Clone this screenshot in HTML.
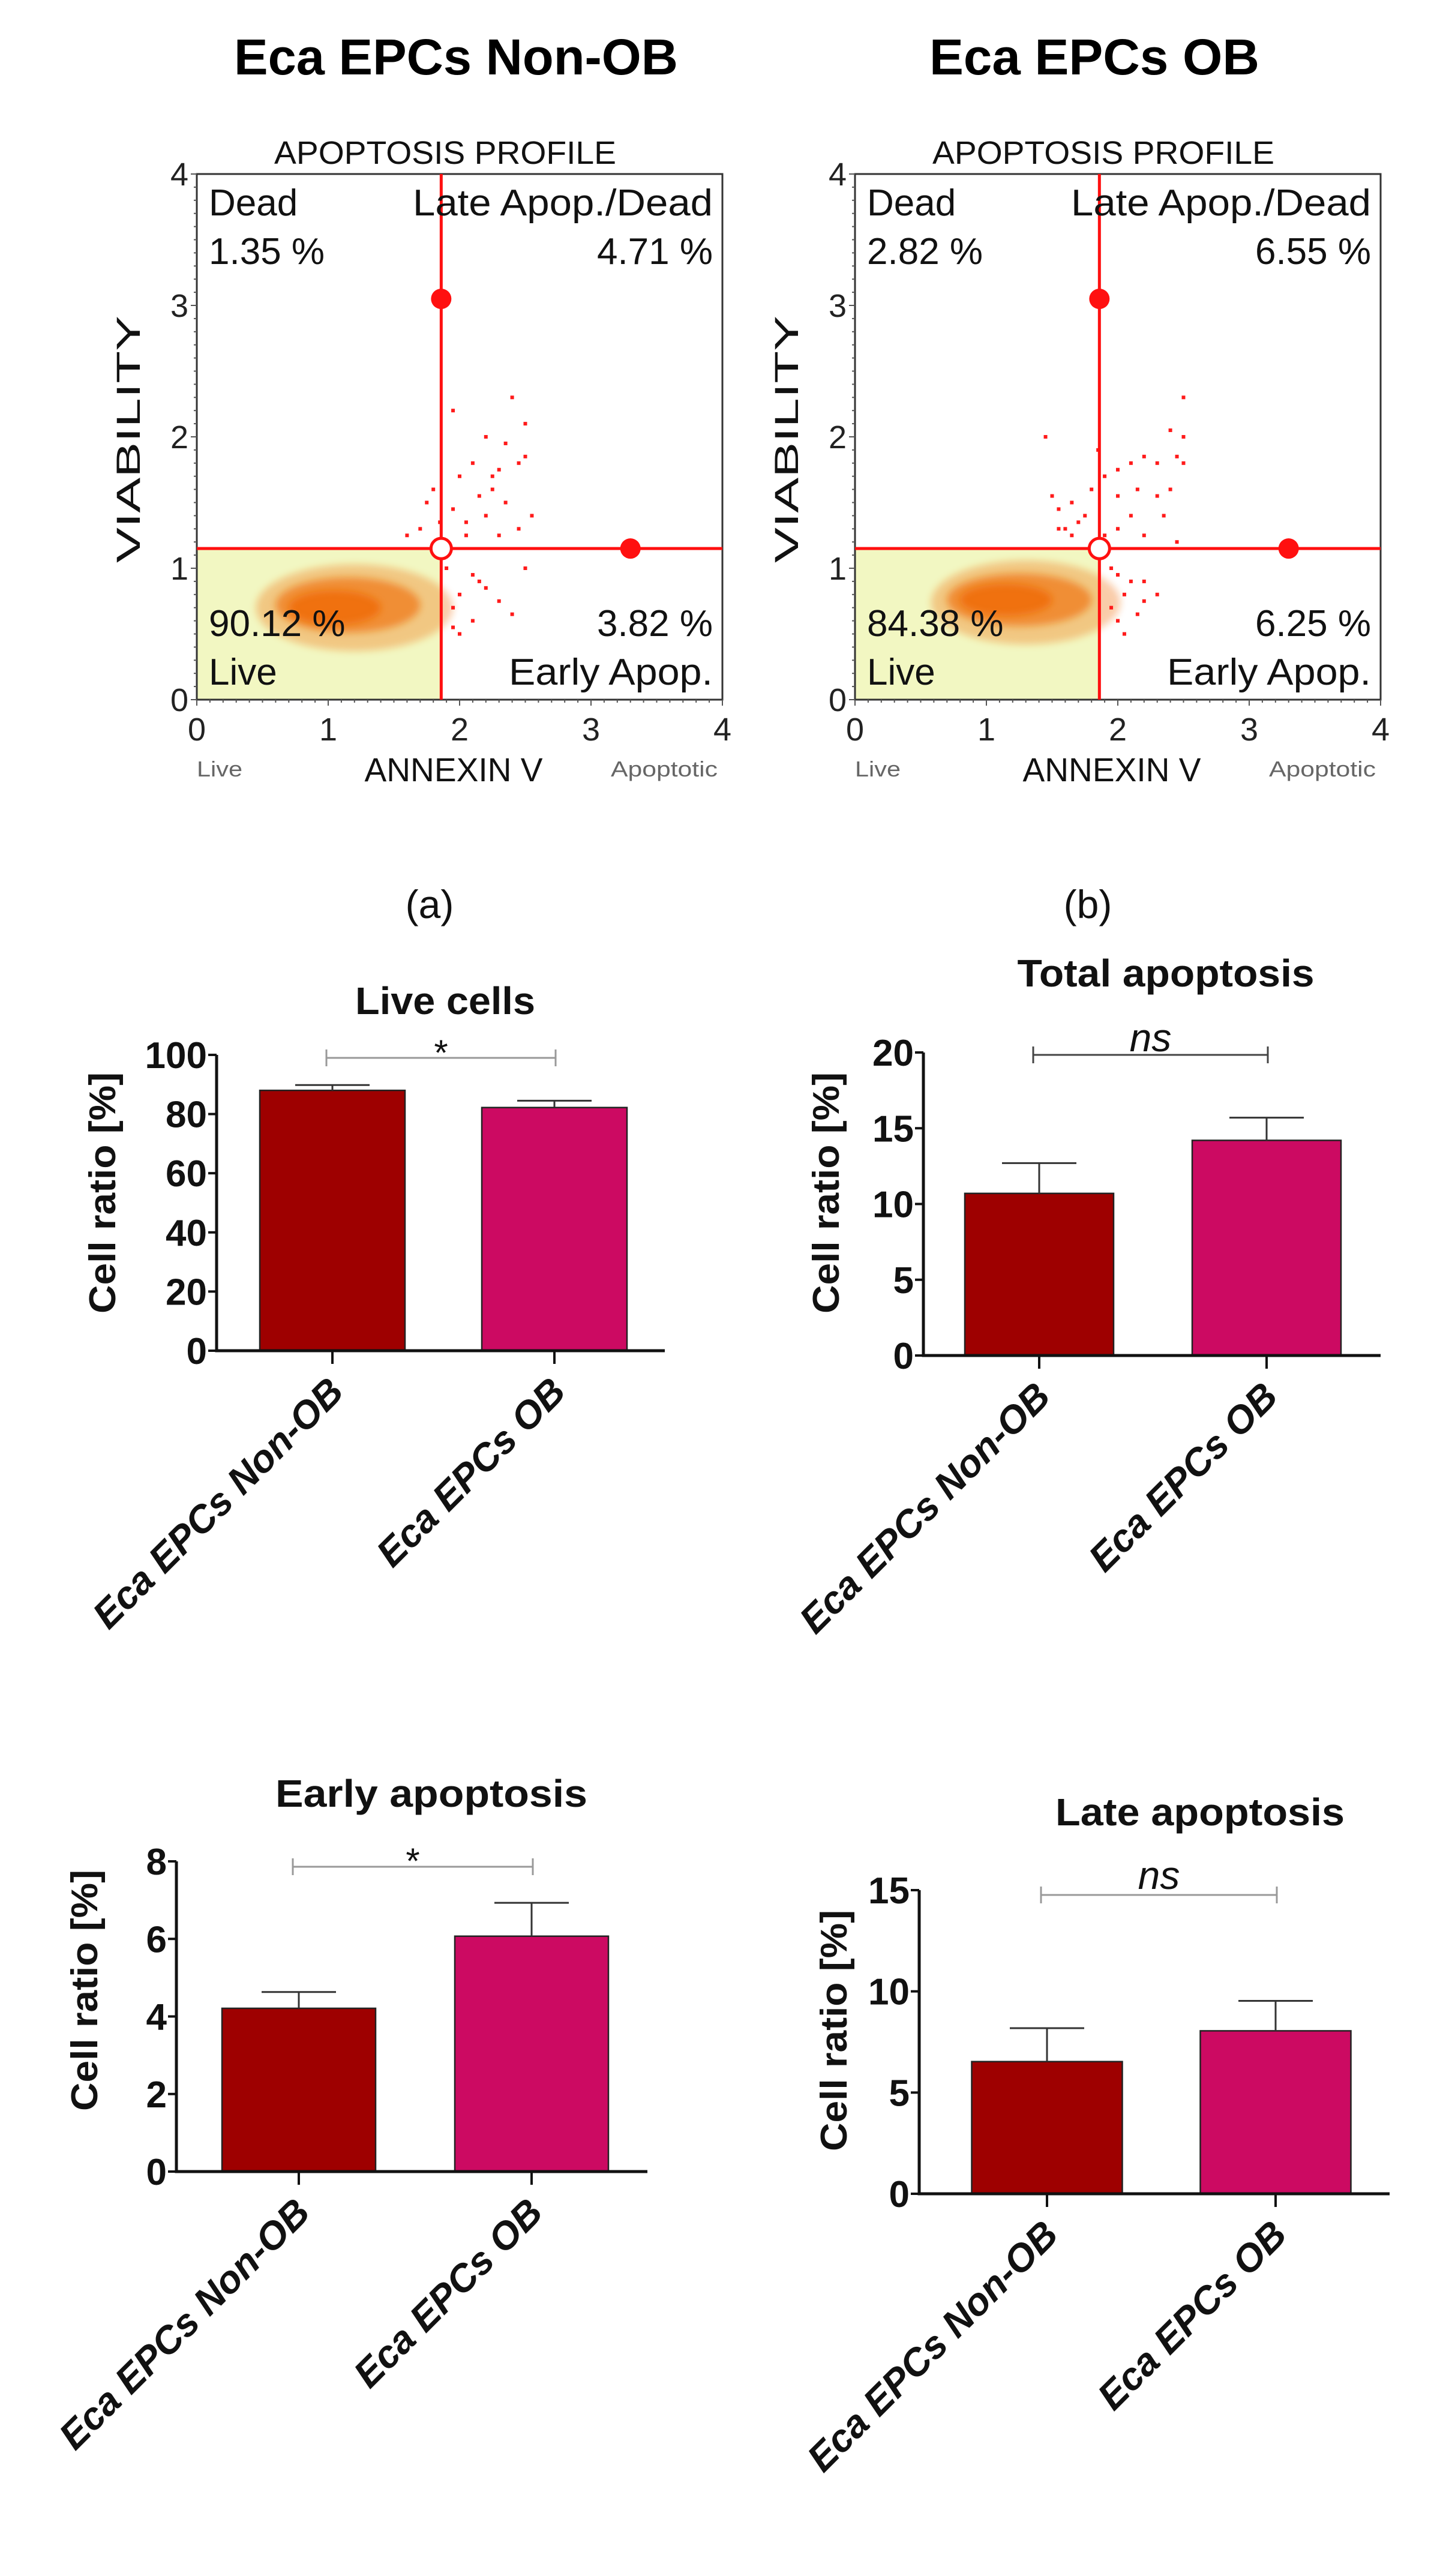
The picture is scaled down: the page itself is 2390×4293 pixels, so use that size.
<!DOCTYPE html>
<html><head><meta charset="utf-8"><style>
html,body{margin:0;padding:0;background:#fff;}
svg{display:block;}
text{font-family:"Liberation Sans",Arial,sans-serif;}
</style></head><body>
<svg id="fig" width="2390" height="4293" viewBox="0 0 2390 4293" xmlns="http://www.w3.org/2000/svg">
<defs><filter id="blur" x="-50%" y="-50%" width="200%" height="200%"><feGaussianBlur stdDeviation="6"/></filter></defs>
<text x="760" y="124" font-size="84" font-weight="bold" text-anchor="middle" textLength="740" lengthAdjust="spacingAndGlyphs">Eca EPCs Non-OB</text>
<text x="1824" y="124" font-size="84" font-weight="bold" text-anchor="middle" textLength="550" lengthAdjust="spacingAndGlyphs">Eca EPCs OB</text>
<g id="root"></g>
</svg>
<script>
// ---------- Scatter (flow cytometry) data ----------
const scatterTicks = [0,1,2,3,4];
const gateX = 1.86, gateY = 1.15;
const handleUpper = [1.86, 3.05];
const handleRight = [3.3, 1.15];
const quadA = ["1.35 %","4.71 %","90.12 %","3.82 %"];
const quadB = ["2.82 %","6.55 %","84.38 %","6.25 %"];
const cloudA = [[1.2,0.7,0.75,0.33],[1.15,0.72,0.55,0.21],[1.05,0.7,0.35,0.13]];
const cloudB = [[1.3,0.74,0.72,0.32],[1.25,0.76,0.55,0.2],[1.15,0.76,0.35,0.12]];
const redA = [[1.95,2.2],[2.2,2.0],[2.4,2.3],[2.5,2.1],[2.45,1.8],[2.5,1.85],[2.3,1.75],[2.1,1.8],[2.0,1.7],[2.15,1.55],[2.25,1.6],[2.35,1.5],[2.2,1.4],[2.05,1.35],[1.8,1.6],[1.75,1.5],[1.85,1.35],[1.95,1.45],[2.3,1.25],[2.45,1.3],[1.6,1.25],[1.7,1.3],[2.05,1.25],[1.9,1.0],[2.1,0.95],[2.2,0.85],[2.0,0.8],[1.95,0.7],[2.3,0.75],[2.1,0.6],[2.4,0.65],[2.0,0.5],[1.95,0.55],[2.15,0.9],[2.55,1.4],[2.5,1.0],[2.35,1.95],[2.25,1.7]];
const redB = [[1.5,1.55],[1.55,1.45],[1.65,1.5],[1.7,1.35],[1.75,1.4],[1.6,1.3],[1.8,1.6],[1.65,1.25],[1.55,1.3],[1.9,1.7],[2.0,1.75],[2.1,1.8],[2.2,1.85],[2.3,1.8],[2.4,2.05],[2.5,2.0],[2.45,1.85],[2.5,1.8],[2.5,2.3],[1.45,2.0],[2.0,1.55],[2.15,1.6],[2.3,1.55],[2.35,1.4],[2.1,1.4],[2.0,1.3],[1.9,1.25],[2.2,1.25],[2.45,1.2],[1.95,1.0],[2.0,0.95],[2.1,0.9],[2.05,0.8],[2.2,0.75],[1.95,0.7],[2.15,0.65],[2.3,0.8],[2.0,0.6],[2.05,0.5],[2.2,0.9],[2.4,1.6],[1.85,1.9]];

// ---------- Bar chart data ----------
const groups = ["Eca EPCs Non-OB","Eca EPCs OB"];
const liveMeans = [88, 82.2];
const liveErr = [1.8, 2.3];
const liveTicks = [0,20,40,60,80,100];
const totalMeans = [10.7, 14.2];
const totalErr = [2.0, 1.5];
const totalTicks = [0,5,10,15,20];
const earlyMeans = [4.21, 6.07];
const earlyErr = [0.42, 0.86];
const earlyTicks = [0,2,4,6,8];
const lateMeans = [6.53, 8.05];
const lateErr = [1.65, 1.48];
const lateTicks = [0,5,10,15];

const NS="http://www.w3.org/2000/svg";
const root=document.getElementById('root');
function el(tag,attrs,parent,txt){const e=document.createElementNS(NS,tag);for(const k in attrs)e.setAttribute(k,attrs[k]);if(txt!==undefined)e.textContent=txt;(parent||root).appendChild(e);return e;}

function scatter(x0,quad,cloud,red,label,name){
  const y0=290,S=876,y1=y0+S;
  const g=el('g',{});
  
  
  const sx=v=>x0+v*S/4, sy=v=>y1-v*S/4;
  const fill=el('rect',{x:x0,y:sy(gateY),width:sx(gateX)-x0,height:y1-sy(gateY),fill:'#f2f7c2'},g);
  
  
  const ops=[0.35,0.65,0.95];
  cloud.forEach((c,i)=>{const e=el('ellipse',{cx:sx(c[0]),cy:sy(c[1]),rx:c[2]*S/4,ry:c[3]*S/4,fill:'#f07010',opacity:ops[i],filter:'url(#blur)'},g);
    
    });
  red.forEach(p=>{const e=el('rect',{x:sx(p[0])-3,y:sy(p[1])-3,width:6,height:6,fill:'#ff1a1a'},g);
    
    });
  const box=el('rect',{x:x0,y:y0,width:S,height:S,fill:'none',stroke:'#333',"stroke-width":3},g);
  
  
  for(let v=0;v<=4.001;v+=0.1){
    const big=Math.abs(v-Math.round(v))<0.01;
    el('line',{x1:sx(v),x2:sx(v),y1:y1,y2:y1+(big?10:5),stroke:'#555','stroke-width':2},g);
    el('line',{x1:x0,x2:x0-(big?10:5),y1:sy(v),y2:sy(v),stroke:'#555','stroke-width':2},g);
  }
  scatterTicks.forEach(t=>{
    const a=el('text',{x:sx(t),y:1234,'font-size':54,'text-anchor':'middle',fill:'#222'},g,t);
    
    
    const b=el('text',{x:x0-14,y:sy(t)+19,'font-size':54,'text-anchor':'end',fill:'#222'},g,t);
    
    
  });
  const gx=sx(gateX),gy=sy(gateY);
  const vl=el('line',{x1:gx,x2:gx,y1:y0,y2:y1,stroke:'#ff1010','stroke-width':5},g);
  
  
  const hl=el('line',{x1:x0,x2:x0+S,y1:gy,y2:gy,stroke:'#ff1010','stroke-width':5},g);
  
  
  const h1=el('circle',{cx:sx(handleUpper[0]),cy:sy(handleUpper[1]),r:17,fill:'#ff1010'},g);
  
  
  const h2=el('circle',{cx:sx(handleRight[0]),cy:sy(handleRight[1]),r:17,fill:'#ff1010'},g);
  
  
  const h3=el('circle',{cx:gx,cy:gy,r:17,fill:'#fff',stroke:'#ff1010','stroke-width':5},g);
  
  
  const L=x0+20,R=x0+S-16;
  const tx=[[L,359,'start','Dead',null],[R,359,'end','Late Apop./Dead',500],[L,440,'start',quad[0],null],[R,440,'end',quad[1],null],
    [L,1060,'start',quad[2],null],[R,1060,'end',quad[3],null],[L,1141,'start','Live',null],[R,1141,'end','Early Apop.',340]];
  tx.forEach(t=>{const a={x:t[0],y:t[1],'font-size':62,'text-anchor':t[2],fill:'#111'};
    if(t[4]){a.textLength=t[4];a.lengthAdjust='spacingAndGlyphs';}
    const e=el('text',a,g,t[3]);
    
    });
  const pt=el('text',{x:x0+S/2-24,y:273,'font-size':54,'text-anchor':'middle',textLength:570,lengthAdjust:'spacingAndGlyphs',fill:'#111'},g,'APOPTOSIS PROFILE');
  
  
  const xt=el('text',{x:x0+S/2-10,y:1302,'font-size':56,'text-anchor':'middle',textLength:297,lengthAdjust:'spacingAndGlyphs',fill:'#111'},g,'ANNEXIN V');
  
  
  const yt=el('text',{x:0,y:0,'font-size':56,'text-anchor':'middle',textLength:412,lengthAdjust:'spacingAndGlyphs',fill:'#111',transform:`translate(${x0-95},732) rotate(-90)`},g,'VIABILITY');
  
  
  const l1=el('text',{x:x0,y:1294,'font-size':36,fill:'#666',textLength:76,lengthAdjust:'spacingAndGlyphs'},g,'Live');
  
  
  const l2=el('text',{x:x0+S-8,y:1294,'font-size':36,fill:'#666','text-anchor':'end',textLength:178,lengthAdjust:'spacingAndGlyphs'},g,'Apoptotic');
  
  
  const pl=el('text',{x:x0+S/2-50,y:1530,'font-size':66,'text-anchor':'middle',fill:'#111'},g,label);
  
  
}
scatter(328,quadA,cloudA,redA,'(a)','scatter-non-ob');
scatter(1425,quadB,cloudB,redB,'(b)','scatter-ob');

function bars(cfg,means,errs,ticks,name){
  const g=el('g',{});
  
  
  const max=ticks[ticks.length-1];
  const sy=v=>cfg.zero-(cfg.zero-cfg.top)*v/max;
  const colors=['#9e0000','#cc0a62'];
  means.forEach((m,i)=>{
    const c=cfg.centers[i];
    const r=el('rect',{x:c-cfg.bw/2,y:sy(m),width:cfg.bw,height:cfg.zero-sy(m),fill:colors[i],stroke:'#222','stroke-width':2.5},g);
    
    
    const e=el('path',{d:`M${c},${sy(m)}V${sy(m+errs[i])}M${c-62},${sy(m+errs[i])}H${c+62}`,stroke:'#333','stroke-width':3,fill:'none'},g);
    
    
    const t=el('line',{x1:c,x2:c,y1:cfg.zero,y2:cfg.zero+22,stroke:'#111','stroke-width':4},g);
    
    
    const lb=el('text',{x:0,y:0,'font-size':64,'font-weight':'bold','font-style':'italic','text-anchor':'end',fill:'#111',transform:`translate(${c+22},${cfg.zero+72}) rotate(-45)`},g,groups[i]);
    
    
  });
  const ax=el('path',{d:`M${cfg.ax},${cfg.top}V${cfg.zero}H${cfg.xend}`,stroke:'#111','stroke-width':5,fill:'none'},g);
  
  
  ticks.forEach(t=>{
    el('line',{x1:cfg.ax-14,x2:cfg.ax,y1:sy(t),y2:sy(t),stroke:'#111','stroke-width':4},g);
    const l=el('text',{x:cfg.ax-16,y:sy(t)+22,'font-size':62,'font-weight':'bold','text-anchor':'end',fill:'#111'},g,t);
    
    
  });
  const yt=el('text',{x:0,y:0,'font-size':62,'font-weight':'bold','text-anchor':'middle',fill:'#111',textLength:cfg.ylen,lengthAdjust:'spacingAndGlyphs',transform:`translate(${cfg.ytx},${cfg.yty}) rotate(-90)`},g,'Cell ratio [%]');
  
  
  const ti=el('text',{x:cfg.tx,y:cfg.ty,'font-size':64,'font-weight':'bold','text-anchor':'middle',fill:'#111',textLength:cfg.tlen,lengthAdjust:'spacingAndGlyphs'},g,cfg.title);
  
  
  const b1=cfg.centers[0]-10,b2=cfg.centers[1]+2;
  const br=el('path',{d:`M${b1},${cfg.by-14}V${cfg.by+14}M${b1},${cfg.by}H${b2}M${b2},${cfg.by-14}V${cfg.by+14}`,stroke:cfg.bc,'stroke-width':3,fill:'none'},g);
  
  
  const s=el('text',{x:(b1+b2)/2,y:cfg.sy,'font-size':cfg.sig==='*'?60:66,'font-style':cfg.sig==='*'?'normal':'italic','text-anchor':'middle',fill:'#111'},g,cfg.sig);
  
  
  const pl=el('text',{x:cfg.lx,y:cfg.ly,'font-size':66,'text-anchor':'middle',fill:'#111'},g,cfg.label);
  
  
}
bars({ax:361,top:1758,zero:2251,xend:1108,centers:[554,924],bw:242,title:'Live cells',tx:742,ty:1690,tlen:300,ylen:402,ytx:192,yty:1988,by:1763,bc:'#999',sig:'*',sy:1775,lx:655,ly:2822},liveMeans,liveErr,liveTicks,'chart-live-cells');
bars({ax:1539,top:1754,zero:2259,xend:2301,centers:[1732,2111],bw:248,title:'Total apoptosis',tx:1943,ty:1644,tlen:495,ylen:402,ytx:1398,yty:1988,by:1758,bc:'#444',sig:'ns',sy:1752,lx:1745,ly:2846},totalMeans,totalErr,totalTicks,'chart-total-apoptosis');
bars({ax:294,top:3102,zero:3619,xend:1079,centers:[498,886],bw:256,title:'Early apoptosis',tx:719,ty:3011,tlen:520,ylen:402,ytx:162,yty:3317,by:3111,bc:'#999',sig:'*',sy:3122,lx:617,ly:4242},earlyMeans,earlyErr,earlyTicks,'chart-early-apoptosis');
bars({ax:1532,top:3150,zero:3656,xend:2316,centers:[1745,2126],bw:251,title:'Late apoptosis',tx:2000,ty:3042,tlen:482,ylen:402,ytx:1411,yty:3384,by:3158,bc:'#999',sig:'ns',sy:3148,lx:1737,ly:4240},lateMeans,lateErr,lateTicks,'chart-late-apoptosis');
</script>
</body></html>
